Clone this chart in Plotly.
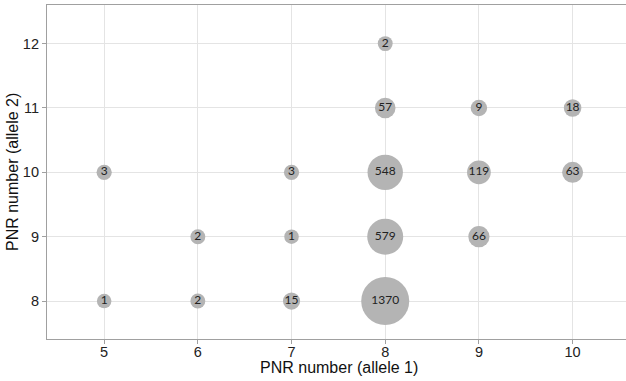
import numpy as np
import plotly.graph_objects as go

allele1 = [8, 8, 9, 10, 5, 7, 8, 9, 10, 6, 7, 8, 9, 5, 6, 7, 8]
allele2 = [12, 11, 11, 11, 10, 10, 10, 10, 10, 9, 9, 9, 9, 8, 8, 8, 8]
counts = [2, 57, 9, 18, 3, 3, 548, 119, 63, 2, 1, 579, 66, 1, 2, 15, 1370]
x_ticks = [5, 6, 7, 8, 9, 10]
y_ticks = [8, 9, 10, 11, 12]

sizes = [13.6 + 0.93 * np.sqrt(c) for c in counts]

fig = go.Figure(go.Scatter(
    x=allele1, y=allele2, mode="markers+text",
    text=[str(c) for c in counts],
    textposition="middle center",
    textfont=dict(family="Lato, Open Sans, sans-serif", size=12, color="#222222"),
    marker=dict(size=sizes, color="#b4b4b4", line=dict(width=0), opacity=1),
    hoverinfo="skip", cliponaxis=False,
))

axis_common = dict(
    showgrid=True, gridcolor="#e4e4e4", gridwidth=1.3,
    zeroline=False, showline=True, linecolor="#a0a0a0", linewidth=1.2,
    ticks="outside", ticklen=4, tickcolor="#a0a0a0", tickwidth=1.2,
    tickfont=dict(family="Liberation Sans, Arial, sans-serif", size=14.5, color="#222222"),
    automargin=False,
)

title_font = dict(family="Liberation Sans, Arial, sans-serif", size=16, color="#111111")

fig.update_layout(
    width=626, height=381,
    margin=dict(l=47, r=0, t=5, b=42),
    paper_bgcolor="white", plot_bgcolor="white",
    showlegend=False,
    xaxis=dict(range=[4.39, 10.57], tickvals=x_ticks, mirror=True,
               ticklabelstandoff=-5, **axis_common),
    yaxis=dict(range=[7.41, 12.6], tickvals=y_ticks, **axis_common),
    annotations=[
        dict(text="PNR number (allele 1)", xref="paper", yref="paper",
             x=0.505, y=0, yshift=-28, xanchor="center", yanchor="middle",
             showarrow=False, font=title_font),
        dict(text="PNR number (allele 2)", xref="paper", yref="paper",
             x=0, y=0.5, xshift=-35, xanchor="center", yanchor="middle",
             textangle=-90, showarrow=False, font=title_font),
    ],
)

fig.write_html("out.html", config={"displayModeBar": False},
               post_script="document.body.style.margin='0';document.body.style.overflow='hidden';")
